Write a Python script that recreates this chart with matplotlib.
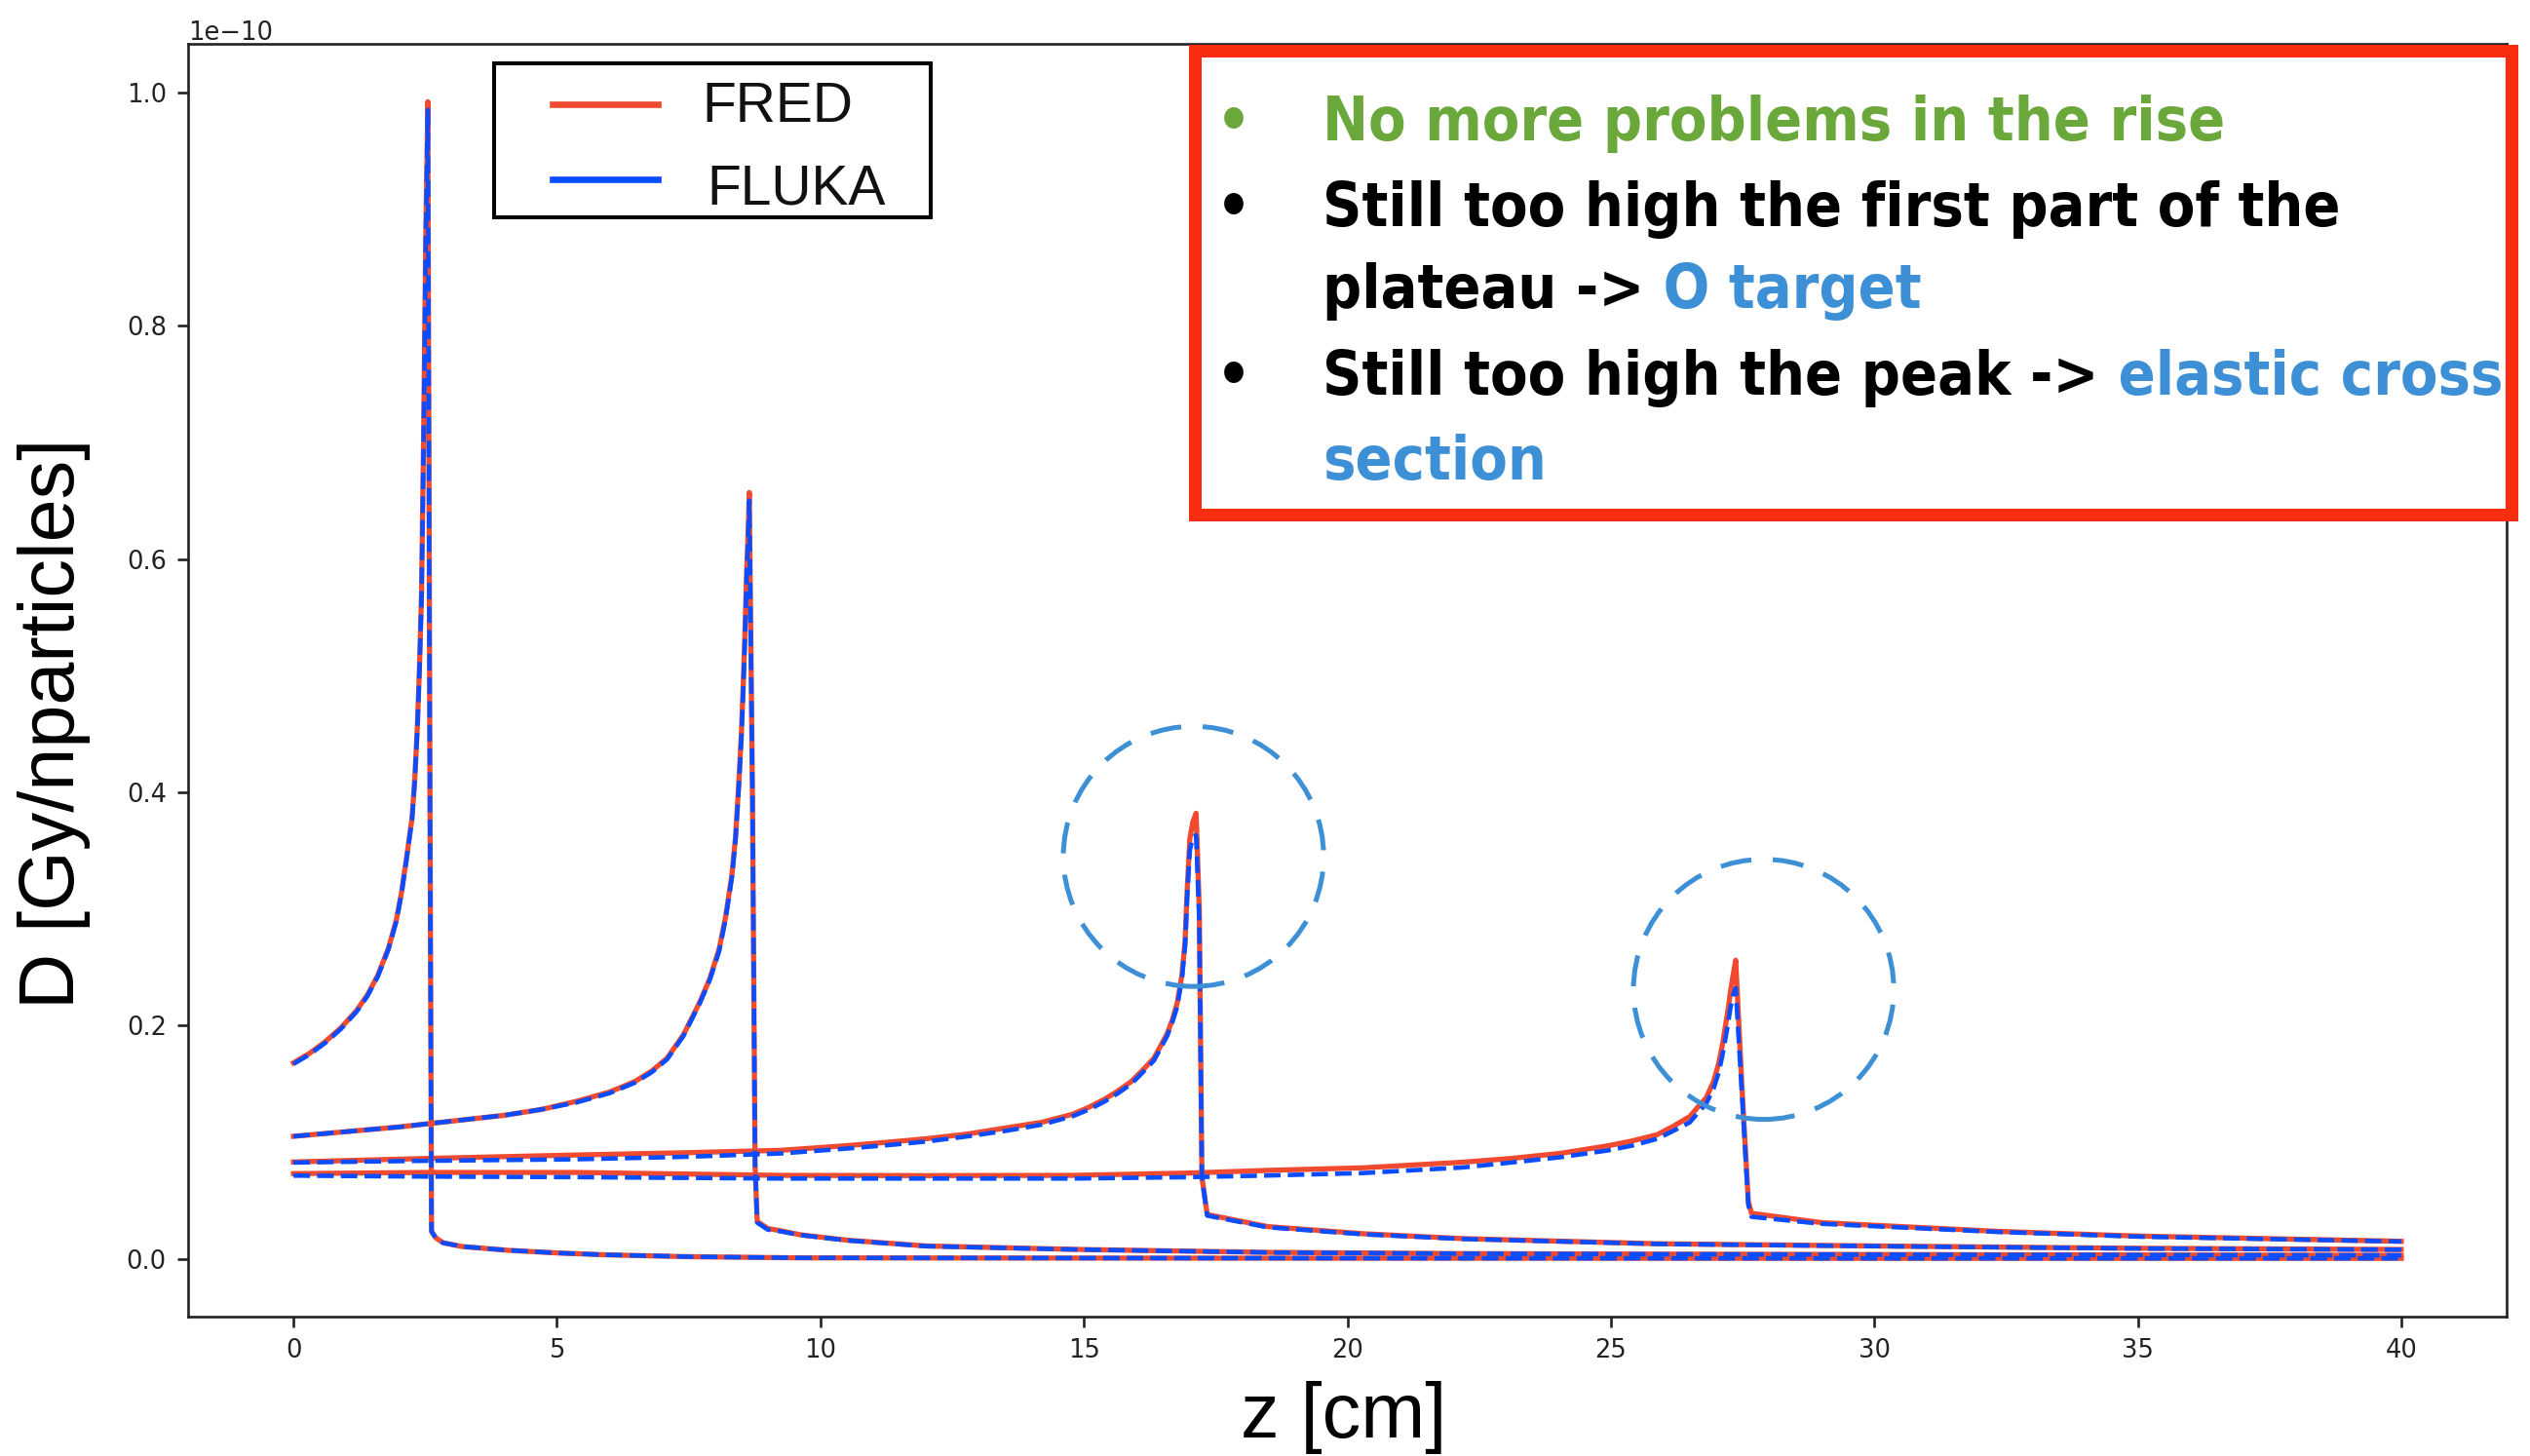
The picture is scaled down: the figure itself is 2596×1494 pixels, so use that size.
import os
import matplotlib
matplotlib.use("Agg")
import matplotlib.pyplot as plt
from matplotlib import font_manager
from matplotlib.font_manager import FontProperties
from matplotlib.patches import Rectangle, Ellipse
from matplotlib.lines import Line2D

SCALE = 1e-10  # dose values below are in units of 1e-10 Gy/nparticles

# ---------------- data ----------------
z1 = [0.0, 0.3, 0.6, 0.9, 1.2, 1.4, 1.6, 1.8, 1.95, 2.05, 2.15, 2.25, 2.30,
      2.35, 2.39, 2.43, 2.47, 2.51, 2.55, 2.59, 2.62, 2.70, 2.84, 3.2, 4.07,
      5.0, 5.92, 7.5, 9.6, 15.0, 20.0, 30.0, 40.0]
d1_fred = [0.168, 0.176, 0.186, 0.198, 0.213, 0.226, 0.243, 0.266, 0.290, 0.314,
           0.345, 0.378, 0.410, 0.455, 0.505, 0.570, 0.705, 0.875, 0.992, 0.40,
           0.0235, 0.018, 0.0137, 0.0105, 0.0073, 0.0050, 0.0034, 0.0018,
           0.0008, 0.0006, 0.0005, 0.0004, 0.0004]
d1_fluka = [0.167, 0.175, 0.185, 0.197, 0.212, 0.225, 0.242, 0.265, 0.289, 0.313,
            0.344, 0.377, 0.409, 0.453, 0.503, 0.567, 0.700, 0.870, 0.985, 0.39,
            0.0235, 0.018, 0.0137, 0.0105, 0.0073, 0.0050, 0.0034, 0.0018,
            0.0008, 0.0006, 0.0005, 0.0004, 0.0004]

z2 = [0.0, 1.0, 2.0, 3.0, 4.0, 4.7, 5.37, 6.0, 6.48, 6.8, 7.09, 7.4, 7.71, 7.9,
      8.08, 8.2, 8.32, 8.39, 8.45, 8.50, 8.54, 8.57, 8.60, 8.63, 8.65, 8.71,
      8.76, 8.80, 9.0, 9.25, 9.62, 10.5, 12.0, 14.8, 18.5, 22.0, 26.0, 32.0, 40.0]
d2_fred = [0.105, 0.109, 0.113, 0.118, 0.123, 0.128, 0.135, 0.143, 0.152, 0.161,
           0.172, 0.192, 0.220, 0.240, 0.266, 0.293, 0.329, 0.362, 0.407, 0.450,
           0.498, 0.540, 0.589, 0.625, 0.657, 0.40, 0.08, 0.032, 0.026, 0.024,
           0.0206, 0.016, 0.011, 0.0081, 0.0055, 0.0045, 0.0040, 0.0035, 0.0030]
d2_fluka = [0.105, 0.109, 0.113, 0.118, 0.123, 0.128, 0.134, 0.142, 0.151, 0.160,
            0.171, 0.191, 0.219, 0.239, 0.264, 0.291, 0.327, 0.360, 0.404, 0.447,
            0.494, 0.536, 0.584, 0.620, 0.650, 0.40, 0.08, 0.031, 0.025, 0.0235,
            0.0203, 0.0158, 0.0108, 0.0080, 0.0054, 0.0044, 0.0039, 0.0034, 0.0029]

z3 = [0.0, 2.5, 5.37, 7.5, 9.25, 10.5, 11.3, 12.02, 12.8, 13.56, 14.2, 14.79,
      15.1, 15.4, 15.65, 15.9, 16.1, 16.33, 16.45, 16.58, 16.68, 16.77, 16.86,
      16.92, 16.96, 17.01, 17.07, 17.13, 17.19, 17.24, 17.34, 18.49, 20.3, 22.19,
      25.88, 30.0, 35.0, 40.0]
d3_fred = [0.083, 0.086, 0.089, 0.091, 0.093, 0.097, 0.100, 0.103, 0.107, 0.1125,
           0.117, 0.124, 0.130, 0.137, 0.144, 0.152, 0.161, 0.172, 0.182, 0.193,
           0.205, 0.219, 0.243, 0.272, 0.316, 0.360, 0.375, 0.382, 0.30, 0.07,
           0.038, 0.0276, 0.0215, 0.0173, 0.0129, 0.011, 0.009, 0.008]
d3_fluka = [0.0825, 0.084, 0.0853, 0.0875, 0.0903, 0.0945, 0.0975, 0.1006, 0.105,
            0.110, 0.115, 0.1223, 0.128, 0.135, 0.142, 0.150, 0.159, 0.170, 0.180,
            0.191, 0.203, 0.216, 0.240, 0.268, 0.310, 0.350, 0.362, 0.363, 0.29,
            0.07, 0.037, 0.027, 0.021, 0.017, 0.0127, 0.0108, 0.0088, 0.0078]

z4 = [0.0, 2.5, 5.37, 9.25, 12.0, 14.8, 17.0, 18.49, 20.3, 22.19, 23.1, 24.03,
      24.96, 25.4, 25.88, 26.2, 26.5, 26.65, 26.81, 26.95, 27.05, 27.12, 27.18,
      27.23, 27.27, 27.32, 27.37, 27.49, 27.61, 27.67, 29.0, 32.35, 35.0, 40.0]
d4_fred = [0.073, 0.074, 0.074, 0.0715, 0.0713, 0.0715, 0.0735, 0.0758, 0.078,
           0.0828, 0.086, 0.0903, 0.097, 0.101, 0.1064, 0.114, 0.122, 0.130,
           0.138, 0.152, 0.168, 0.184, 0.201, 0.215, 0.229, 0.243, 0.256, 0.146,
           0.049, 0.039, 0.031, 0.0235, 0.0195, 0.015]
d4_fluka = [0.0713, 0.0705, 0.070, 0.0688, 0.0688, 0.0688, 0.070, 0.0714, 0.0735,
            0.0783, 0.0825, 0.087, 0.093, 0.097, 0.1028, 0.110, 0.117, 0.125,
            0.133, 0.146, 0.160, 0.175, 0.190, 0.203, 0.215, 0.226, 0.232, 0.14,
            0.046, 0.036, 0.030, 0.023, 0.019, 0.0148]

curves_z = [z1, z2, z3, z4]
fred_d = [d1_fred, d2_fred, d3_fred, d4_fred]
fluka_d = [d1_fluka, d2_fluka, d3_fluka, d4_fluka]

series_labels = ["FRED", "FLUKA"]
xlabel = "z [cm]"
ylabel = "D [Gy/nparticles]"

# highlighted peaks (center z, center D, width cm, height D-units)
highlight = [(17.08, 0.345, 4.94, 0.223), (27.9, 0.231, 4.94, 0.223)]

# ---------------- style ----------------
RED = "#f04b30"
BLUE = "#0a4cff"
NOTE_BLUE = "#3d8fd6"
NOTE_GREEN = "#6aa83c"
BOX_RED = "#f92d0f"

avail = {f.name for f in font_manager.fontManager.ttflist}
label_font = "Liberation Sans" if "Liberation Sans" in avail else "DejaVu Sans"


def _is_bold(w):
    if isinstance(w, str):
        return w.lower() in ("bold", "heavy", "extra bold", "black", "demibold", "semibold")
    return w >= 600


def pick_note_font():
    narrow = []
    for f in font_manager.fontManager.ttflist:
        key = (f.name + " " + os.path.basename(f.fname)).lower()
        if ("condensed" in key or "narrow" in key
                or str(f.stretch) in ("condensed", "semi-condensed",
                                      "extra-condensed", "ultra-condensed")):
            if "mono" in key or "serif" in key and "sans" not in key:
                continue
            narrow.append(f)
    bold_narrow = [f for f in narrow if _is_bold(f.weight)]
    if bold_narrow:
        return FontProperties(fname=bold_narrow[0].fname)
    if narrow:
        return FontProperties(fname=narrow[0].fname, weight="bold")
    for fam in ("Lato", "Roboto", "Liberation Sans"):
        if fam in avail:
            return FontProperties(family=fam, weight="bold")
    return FontProperties(family="DejaVu Sans", weight="bold")


W, H = 2596, 1494
fig = plt.figure(figsize=(W / 100, H / 100), dpi=100)
fig.patch.set_facecolor("white")


def fx(px):
    return px / W


def fy(py):
    return 1 - py / H


ax = fig.add_axes([fx(193), fy(1351), (2572 - 193) / W, (1351 - 45) / H])

for z, d in zip(curves_z, fred_d):
    ax.plot(z, [v * SCALE for v in d], color=RED, lw=3.8, solid_joinstyle="round")
for z, d in zip(curves_z, fluka_d):
    ax.plot(z, [v * SCALE for v in d], color=BLUE, lw=3.3, ls="--")

for cz, cd, w, h in highlight:
    ax.add_patch(Ellipse((cz, cd * SCALE), w, h * SCALE, fill=False,
                         edgecolor=NOTE_BLUE, lw=3.6, ls=(0, (6.4, 4.4)), zorder=4))

ax.set_xlim(-2, 42)
ax.set_ylim(-0.0496 * SCALE, 1.0416 * SCALE)
ax.set_xticks([0, 5, 10, 15, 20, 25, 30, 35, 40])
ax.set_yticks([v * SCALE for v in [0.0, 0.2, 0.4, 0.6, 0.8, 1.0]])
ax.tick_params(labelsize=18.5, length=8, width=1.9, pad=8, colors="#222222")
ax.yaxis.get_offset_text().set_fontsize(18.5)
for s in ax.spines.values():
    s.set_linewidth(1.9)
    s.set_color("#222222")

ax.set_xlabel(xlabel, fontsize=57, family=label_font)
ax.xaxis.set_label_coords(0.4985, -0.0789)
ax.xaxis.label.set_va("center")
ax.set_ylabel(ylabel, fontsize=57, family=label_font)
ax.yaxis.set_label_coords(-0.058, 0.4663)
ax.yaxis.label.set_va("center")

# ---------------- legend (drawn as on the slide) ----------------
tf = fig.transFigure
ax.add_patch(Rectangle((fx(507), fy(223)), (955 - 507) / W, (223 - 65) / H,
                       transform=tf, facecolor="white", edgecolor="black",
                       lw=2.9, clip_on=False, zorder=8))
for col, ly, lab, tx, ty in [(RED, 107, series_labels[0], 720, 125),
                             (BLUE, 184, series_labels[1], 725, 210)]:
    ax.add_line(Line2D([fx(567), fx(675)], [fy(ly), fy(ly)], transform=tf,
                       color=col, lw=4.8, clip_on=False, zorder=9))
    ax.text(fx(tx), fy(ty), lab, transform=tf, fontsize=41, family=label_font,
            color="#111111", va="baseline", ha="left", zorder=9)

# ---------------- note box ----------------
ax.add_patch(Rectangle((fx(1225.5), fy(528.5)), (2576.5 - 1225.5) / W,
                       (528.5 - 52.5) / H, transform=tf, facecolor="white",
                       edgecolor=BOX_RED, lw=9.4, clip_on=False, zorder=10))

lines = [
    (144, True, [("No more problems in the rise", NOTE_GREEN)]),
    (232, True, [("Still too high the first part of the", "black")]),
    (316, False, [("plateau ->", "black"), (" O target", NOTE_BLUE)]),
    (405, True, [("Still too high the peak ->", "black"), (" elastic cross", NOTE_BLUE)]),
    (492, False, [("section", NOTE_BLUE)]),
]

# size the note font so that the longest black line spans its width in the reference
note_fp = pick_note_font()
note_fp.set_size(60)
renderer = fig.canvas.get_renderer()
probe = fig.text(0, 0, lines[1][2][0][0], fontproperties=note_fp)
wpx = probe.get_window_extent(renderer).width
probe.remove()
note_fp.set_size(min(66, 60 * 1045 / wpx))

for base, bullet, parts in lines:
    if bullet:
        ax.text(fx(1248), fy(base), "\u2022", transform=tf, va="baseline",
                ha="left", color=NOTE_GREEN if parts[0][1] == NOTE_GREEN else "black",
                clip_on=False, fontproperties=note_fp, zorder=11)
    prev = None
    for txt, col in parts:
        if prev is None:
            prev = ax.text(fx(1357), fy(base), txt, transform=tf, va="baseline",
                           ha="left", color=col, clip_on=False,
                           fontproperties=note_fp, zorder=11)
        else:
            prev = ax.annotate(txt, xy=(1, 0), xycoords=prev, va="bottom",
                               ha="left", color=col, annotation_clip=False,
                               fontproperties=note_fp, zorder=11)

fig.savefig("out.png", dpi=100, facecolor="white")
